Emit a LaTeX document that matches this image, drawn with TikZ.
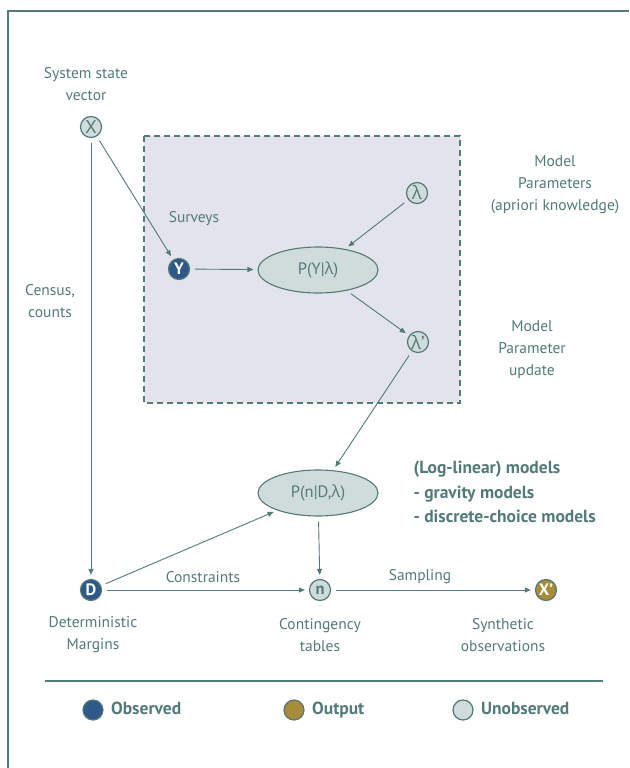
\documentclass[tikz,border=0pt]{standalone}
\usepackage{fontspec}
\setmainfont{PT Sans}
\newfontfamily\grk{Open Sans}
\usetikzlibrary{arrows.meta,shapes.geometric}
\definecolor{teal}{RGB}{82,122,120}
\definecolor{light}{RGB}{208,220,219}
\definecolor{lavender}{RGB}{227,227,236}
\definecolor{obsblue}{RGB}{46,88,138}
\definecolor{outgold}{RGB}{168,139,58}

\begin{document}
\begin{tikzpicture}[x=1pt,y=-1pt,
    font=\fontsize{15.5}{22}\selectfont, text=teal,
    var/.style={circle, draw=teal, line width=1.2pt, minimum size=21pt, inner sep=0pt, fill=light, font=\fontsize{18.5}{20}\selectfont},
    obsvar/.style={var, fill=obsblue, text=white, font=\fontsize{16.5}{20}\selectfont\bfseries},
    outvar/.style={var, fill=outgold, text=white, font=\fontsize{16.5}{20}\selectfont\bfseries},
    dist/.style={ellipse, draw=teal, line width=1.1pt, fill=light, minimum width=120pt, minimum height=46pt, inner sep=0pt, font=\fontsize{16.5}{20}\selectfont},
    lbl/.style={align=center},
    bold/.style={font=\fontsize{17.5}{24.5}\selectfont\bfseries},
    edge/.style={draw=teal, line width=0.9pt, -{Triangle[length=6pt,width=5pt]}, shorten >=4pt, shorten <=5pt}]
  \useasboundingbox (0,0) rectangle (629,768);
  \draw[teal, line width=1.5pt] (8,768) -- (8,11) -- (629,11);
  \draw[teal, line width=1.2pt, dashed, dash pattern=on 6pt off 4pt, fill=lavender] (144,136) rectangle (460,403);

  \node[var] (x) at (91,127) {X};
  \node[lbl] (xlab) at (86,84) {System state\\vector};
  \node[var] (lam) at (417,193) {\grk λ};
  \node[lbl] (lamlab) at (555,185) {Model\\Parameters\\(apriori knowledge)};
  \node (surv) at (194,219) {Surveys};
  \node[obsvar] (y) at (179,269) {Y};
  \node[dist] (py) at (318,270) {P(Y|{\grk λ})};
  \node[var] (lamp) at (418,342) {{\grk λ}'};
  \node[lbl] (lamplab) at (532,350) {Model\\Parameter\\update};
  \node[lbl] (cens) at (50,301) {Census,\\counts};
  \node[dist] (pn) at (318,493) {P(n|D,{\grk λ})};
  \node[align=left, anchor=west, bold] (models) at (410,492) {(Log-linear) models\\- gravity models\\- discrete-choice models};
  \node[obsvar] (d) at (91,590) {D};
  \node[var, font=\fontsize{16.5}{20}\selectfont\bfseries] (n) at (320,590) {n};
  \node[outvar] (xp) at (546,590) {X'};
  \node (cons) at (203,577) {Constraints};
  \node (samp) at (420,577) {Sampling};
  \node[lbl] (dlab) at (93,635) {Deterministic\\Margins};
  \node[lbl] (nlab) at (320,635) {Contingency\\tables};
  \node[lbl] (xplab) at (503,635) {Synthetic\\observations};

  \path[edge] (x) -- (y);
  \path[edge] (x) -- (d);
  \path[edge] (lam) -- (py);
  \path[edge] (y) -- (py);
  \path[edge] (py) -- (lamp);
  \path[edge] (lamp) -- (pn);
  \path[edge] (d) -- (pn);
  \path[edge] (pn) -- (n);
  \path[edge] (d) -- (n);
  \path[edge] (n) -- (xp);

  \draw[teal, line width=1.2pt] (45,681) -- (603,681);
  \node[obsvar, minimum size=20pt] (lobs) at (93,710) {};
  \node[anchor=west, bold, text height=12pt, text depth=4pt] (tobs) at ([xshift=4pt]lobs.east) {Observed};
  \node[outvar, minimum size=20pt] (lout) at (294,710) {};
  \node[anchor=west, bold, text height=12pt, text depth=4pt] (tout) at ([xshift=4pt]lout.east) {Output};
  \node[var, minimum size=20pt] (lun) at (463,710) {};
  \node[anchor=west, bold, text height=12pt, text depth=4pt] (tun) at ([xshift=4pt]lun.east) {Unobserved};
\end{tikzpicture}
\end{document}
